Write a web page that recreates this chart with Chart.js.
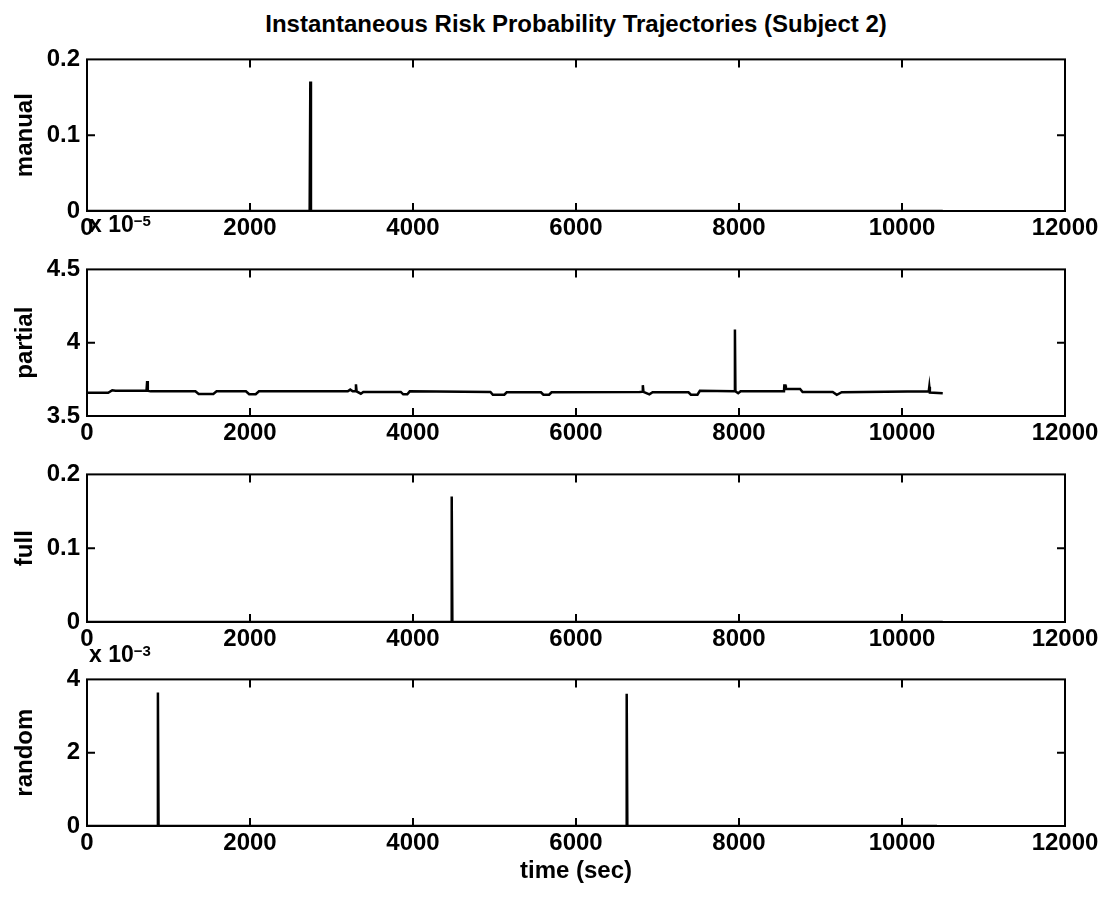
<!DOCTYPE html>
<html>
<head>
<meta charset="utf-8">
<title>Instantaneous Risk Probability Trajectories (Subject 2)</title>
<script src="https://cdn.jsdelivr.net/npm/chart.js@4.4.1/dist/chart.umd.min.js"></script>
<style>
    body { margin: 0; background: #fff; }
    #page { position: relative; width: 1106px; height: 898px; font-family: "Liberation Sans", Arial, Helvetica, sans-serif; font-weight: bold; color: #000; }
    canvas { position: absolute; left: 0; }
    .title { position: absolute; left: 87px; width: 978px; top: 10px; text-align: center; font-size: 24px; }
    .mult { position: absolute; left: 89px; font-size: 23px; line-height: 23px; white-space: nowrap; }
    .mult sup { font-size: 15px; position: relative; top: -4px; vertical-align: top; }
</style>
</head>
<body>
<div id="page">
    <div class="title">Instantaneous Risk Probability Trajectories (Subject 2)</div>
    <canvas id="manualChart" width="1106" height="205" style="top:38px"></canvas>
    <canvas id="partialChart" width="1106" height="200" style="top:248px"></canvas>
    <canvas id="fullChart" width="1106" height="201" style="top:453px"></canvas>
    <canvas id="randomChart" width="1106" height="230" style="top:658px"></canvas>
    <div class="mult" style="top:213px">x 10<sup>&minus;5</sup></div>
    <div class="mult" style="top:643px">x 10<sup>&minus;3</sup></div>
</div>
<script>
// x axis (time in seconds), shared by all four panels
const xTicks = [0, 2000, 4000, 6000, 8000, 10000, 12000];

// manual: one spike around 2740 s
const manualTime = [0, 2732, 2740, 2748, 10500];
const manualRisk = [0, 0, 0.171, 0, 0];
const manualTicks = [0, 0.1, 0.2];

// partial: values shown in units of 10^-5
const partialTime = [0, 260, 310, 350, 730, 738, 746, 780, 1330, 1370, 1550, 1590, 1950, 1990, 2070, 2110,
    3200, 3230, 3260, 3292, 3300, 3308, 3360, 3390, 3850, 3880, 3930, 3960, 4950, 4980, 5120, 5150, 5570, 5600,
    5670, 5700, 6780, 6812, 6820, 6828, 6900, 6940, 7380, 7410, 7490, 7520, 7944, 7950, 7956, 7990, 8020, 8552,
    8556, 8570, 8575, 8750, 8780, 9150, 9200, 9260, 10328, 10335, 10342, 10500];
const partialRisk = [3.658, 3.658, 3.676, 3.672, 3.672, 3.738, 3.672, 3.668, 3.668, 3.650, 3.650, 3.668, 3.668, 3.648, 3.648, 3.668,
    3.668, 3.680, 3.668, 3.668, 3.716, 3.668, 3.652, 3.664, 3.664, 3.648, 3.648, 3.668, 3.664, 3.645, 3.645, 3.662, 3.662, 3.645,
    3.645, 3.662, 3.664, 3.666, 3.710, 3.664, 3.648, 3.662, 3.662, 3.645, 3.645, 3.672, 3.668, 4.090, 3.668, 3.655, 3.668, 3.668,
    3.708, 3.708, 3.684, 3.684, 3.664, 3.664, 3.645, 3.662, 3.668, 3.700, 3.660, 3.655];
const partialTicks = [3.5, 4, 4.5];

// full: one spike around 4475 s
const fullTime = [0, 4467, 4475, 4483, 10500];
const fullRisk = [0, 0, 0.170, 0, 0];
const fullTicks = [0, 0.1, 0.2];

// random: values shown in units of 10^-3
const randomTime = [0, 862, 870, 878, 6614, 6622, 6630, 10430];
const randomRisk = [0, 0, 3.64, 0, 0, 3.61, 0, 0];
const randomTicks = [0, 2, 4];

const FONT = "'Liberation Sans', Arial, Helvetica, sans-serif";

// MATLAB style box with inward tick marks on all four sides
const matlabBox = {
    id: 'matlabBox',
    afterDatasetsDraw(chart) {
        const ctx = chart.ctx;
        const a = chart.chartArea;
        const x = chart.scales.x, y = chart.scales.y;
        const len = 8;
        ctx.save();
        ctx.strokeStyle = '#000';
        ctx.lineWidth = 2;
        ctx.strokeRect(a.left, a.top, a.right - a.left, a.bottom - a.top);
        ctx.beginPath();
        x.ticks.forEach(function(t) {
            const px = x.getPixelForValue(t.value);
            if (px <= a.left + 1 || px >= a.right - 1) return;
            ctx.moveTo(px, a.bottom); ctx.lineTo(px, a.bottom - len);
            ctx.moveTo(px, a.top); ctx.lineTo(px, a.top + len);
        });
        y.ticks.forEach(function(t) {
            const py = y.getPixelForValue(t.value);
            if (py <= a.top + 1 || py >= a.bottom - 1) return;
            ctx.moveTo(a.left, py); ctx.lineTo(a.left + len, py);
            ctx.moveTo(a.right, py); ctx.lineTo(a.right - len, py);
        });
        ctx.stroke();
        ctx.restore();
    }
};

function makePanel(id, times, values, yTicks, yLabel, xTitle) {
    const points = times.map(function(t, i) { return { x: t, y: values[i] }; });
    const yMin = yTicks[0], yMax = yTicks[yTicks.length - 1];
    return new Chart(document.getElementById(id), {
        type: 'line',
        data: {
            datasets: [{
                data: points,
                borderColor: '#000',
                borderWidth: 2.5,
                pointRadius: 0,
                tension: 0,
                fill: false
            }]
        },
        options: {
            responsive: false,
            animation: false,
            devicePixelRatio: 1,
            layout: { padding: { top: 14, right: 41, left: 0, bottom: 0 } },
            plugins: { legend: { display: false }, tooltip: { enabled: false } },
            scales: {
                x: {
                    type: 'linear',
                    min: xTicks[0],
                    max: xTicks[xTicks.length - 1],
                    afterBuildTicks: function(scale) {
                        scale.ticks = xTicks.map(function(v) { return { value: v }; });
                    },
                    grid: { display: false, drawTicks: false },
                    border: { display: false },
                    ticks: {
                        color: '#000',
                        padding: 3,
                        autoSkip: false,
                        maxRotation: 0,
                        font: { family: FONT, size: 24, weight: 'bold' },
                        callback: function(v) { return String(v); }
                    },
                    title: {
                        display: !!xTitle,
                        text: xTitle || '',
                        color: '#000',
                        padding: { top: 0, bottom: 2 },
                        font: { family: FONT, size: 24, weight: 'bold' }
                    },
                    afterFit: function(scale) { scale.height = xTitle ? 62 : 32; }
                },
                y: {
                    min: yMin,
                    max: yMax,
                    afterBuildTicks: function(scale) {
                        scale.ticks = yTicks.map(function(v) { return { value: v }; });
                    },
                    grid: { display: false, drawTicks: false },
                    border: { display: false },
                    ticks: {
                        color: '#000',
                        padding: 7,
                        font: { family: FONT, size: 24, weight: 'bold' },
                        callback: function(v) { return String(+v.toFixed(3)); }
                    },
                    title: {
                        display: true,
                        text: yLabel,
                        color: '#000',
                        padding: { top: 11, bottom: 0 },
                        font: { family: FONT, size: 24, weight: 'bold' }
                    },
                    afterFit: function(scale) { scale.width = 87; }
                }
            }
        },
        plugins: [matlabBox]
    });
}

makePanel('manualChart', manualTime, manualRisk, manualTicks, 'manual');
makePanel('partialChart', partialTime, partialRisk, partialTicks, 'partial');
makePanel('fullChart', fullTime, fullRisk, fullTicks, 'full');
makePanel('randomChart', randomTime, randomRisk, randomTicks, 'random', 'time (sec)');
</script>
</body>
</html>
